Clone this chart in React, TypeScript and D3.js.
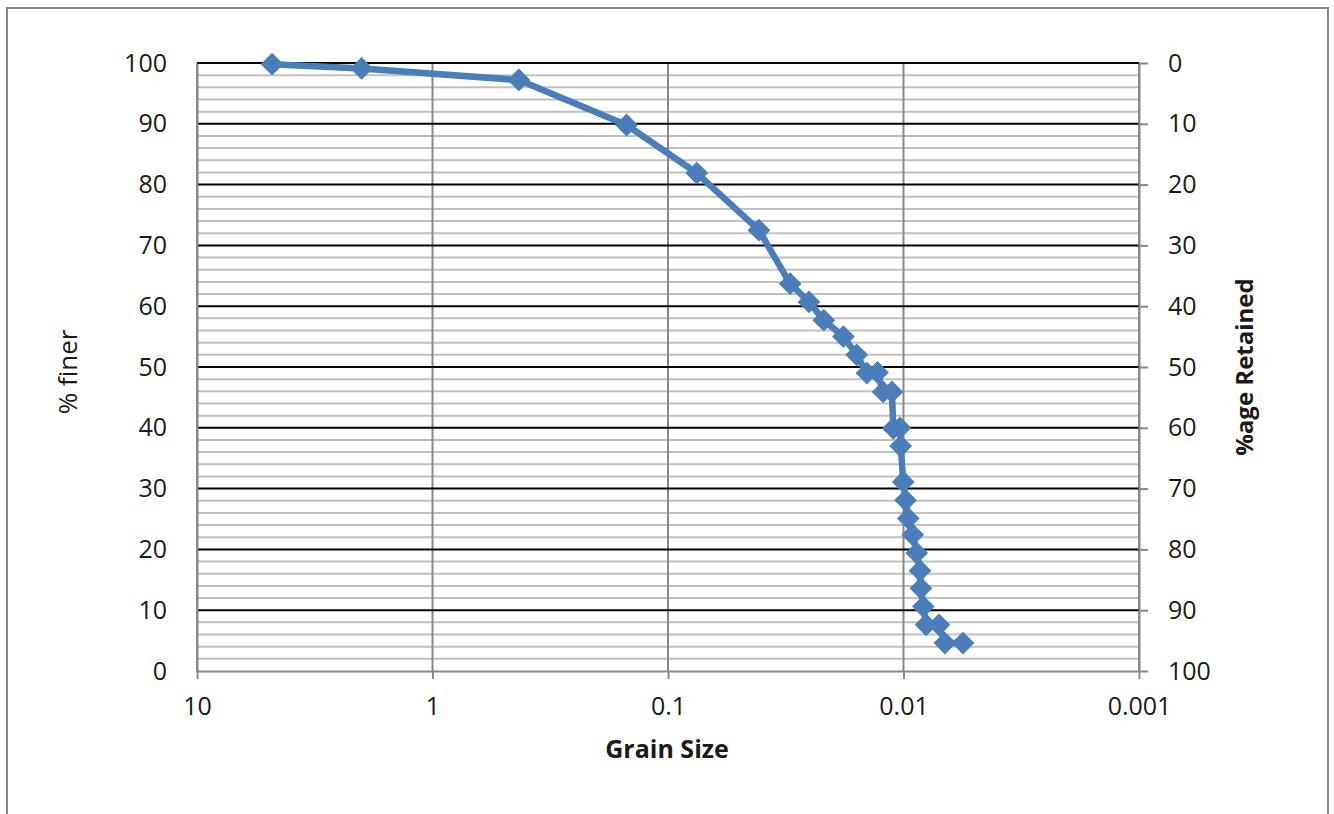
import React, { useRef, useEffect } from 'react'
import * as d3 from 'd3'

// grain size (mm) vs % finer
const grainSize = [4.8, 2.0, 0.43, 0.15, 0.0755, 0.0411, 0.0303, 0.0252, 0.0218, 0.018, 0.0158, 0.0143, 0.0129, 0.0122, 0.0112, 0.01105, 0.01035, 0.01028, 0.01002, 0.0098, 0.00955, 0.00914, 0.00879, 0.00851, 0.00843, 0.00824, 0.00802, 0.00707, 0.00667, 0.00559]
const percentFiner = [99.8, 99.1, 97.2, 89.8, 81.9, 72.5, 63.7, 60.7, 57.7, 55.0, 52.0, 49.0, 49.1, 45.9, 45.9, 39.9, 40.0, 37.0, 31.1, 28.1, 25.1, 22.4, 19.4, 16.5, 13.6, 10.6, 7.6, 7.6, 4.6, 4.6]
const xTicks = [10, 1, 0.1, 0.01, 0.001]
const yTicks = [0, 10, 20, 30, 40, 50, 60, 70, 80, 90, 100]
const yMinor = d3.range(0, 101, 2)

const App = () => {
    const ref = useRef<SVGSVGElement>(null)
    useEffect(() => {
        const W = 1334
        const H = 814
        const left = 197, right = 1139, top = 63, bottom = 671
        const font = '"Open Sans", Lato, sans-serif'
        const svg = d3.select(ref.current)
        svg.selectAll('*').remove()
        svg.attr('width', W).attr('height', H)

        svg.append('rect')
            .attr('width', W).attr('height', H)
            .attr('fill', 'white')
        // outer chart frame
        svg.append('rect')
            .attr('x', 7).attr('y', 8)
            .attr('width', 1321).attr('height', 840)
            .attr('fill', 'none')
            .attr('stroke', '#888')
            .attr('stroke-width', 2)

        const x = d3.scaleLog().domain([10, 0.001]).range([left, right])
        const y = d3.scaleLinear().domain([0, 100]).range([bottom, top])
        const yR = d3.scaleLinear().domain([100, 0]).range([bottom, top])

        const grid = svg.append('g')
        // minor horizontal grid
        grid.selectAll('.minor')
            .data(yMinor.filter(v => v % 10 !== 0))
            .join('line')
            .attr('x1', left).attr('x2', right)
            .attr('y1', d => y(d)).attr('y2', d => y(d))
            .attr('stroke', '#c0c0c0')
            .attr('stroke-width', 2)
        // vertical decade lines
        grid.selectAll('.vgrid')
            .data(xTicks)
            .join('line')
            .attr('x1', d => x(d)).attr('x2', d => x(d))
            .attr('y1', top).attr('y2', bottom)
            .attr('stroke', '#888')
            .attr('stroke-width', 2)
        // major horizontal grid
        grid.selectAll('.major')
            .data(yTicks.filter(v => v !== 0))
            .join('line')
            .attr('x1', left).attr('x2', right)
            .attr('y1', d => y(d)).attr('y2', d => y(d))
            .attr('stroke', 'black')
            .attr('stroke-width', 2)

        // axes
        const styleAxis = (g: any) => {
            g.select('.domain').attr('stroke', '#888').attr('stroke-width', 2)
            g.selectAll('.tick line').attr('stroke', '#888').attr('stroke-width', 2)
            g.selectAll('text')
                .style('font-family', font)
                .style('font-size', '25px')
                .attr('fill', '#1a1a1a')
        }
        svg.append('g')
            .attr('transform', `translate(0,${bottom})`)
            .call(d3.axisBottom(x).tickValues(xTicks).tickFormat(d => String(d)).tickSizeInner(8).tickSizeOuter(0).tickPadding(18))
            .call(styleAxis)
        svg.append('g')
            .attr('transform', `translate(${left},0)`)
            .call(d3.axisLeft(y).tickValues(yTicks).tickSizeInner(0).tickSizeOuter(0).tickPadding(30))
            .call(styleAxis)
        svg.append('g')
            .attr('transform', `translate(${right},0)`)
            .call(d3.axisRight(yR).tickValues(yTicks).tickSizeInner(9).tickSizeOuter(0).tickPadding(20))
            .call(styleAxis)

        // series
        const pts = grainSize.map((g, i) => [g, percentFiner[i]] as [number, number])
        const line = d3.line<[number, number]>()
            .x(d => x(d[0]))
            .y(d => y(d[1]))
        svg.append('path')
            .attr('d', line(pts))
            .attr('fill', 'none')
            .attr('stroke', '#4a7ebb')
            .attr('stroke-width', 6.5)
            .attr('stroke-linejoin', 'round')
        const diamond = d3.symbol().type(d3.symbolSquare).size(260)
        svg.selectAll('.marker')
            .data(pts)
            .join('path')
            .attr('d', diamond())
            .attr('transform', d => `translate(${x(d[0])},${y(d[1])}) rotate(45)`)
            .attr('fill', '#4a7ebb')

        // titles
        svg.append('text')
            .attr('x', 667).attr('y', 758)
            .attr('text-anchor', 'middle')
            .style('font-family', font).style('font-size', '25px').style('font-weight', 'bold')
            .attr('fill', '#1a1a1a')
            .text('Grain Size')
        svg.append('text')
            .attr('transform', `translate(77,372) rotate(-90)`)
            .attr('text-anchor', 'middle')
            .style('font-family', font).style('font-size', '26px')
            .attr('fill', '#1a1a1a')
            .text('% finer')
        svg.append('text')
            .attr('transform', `translate(1253,367) rotate(-90)`)
            .attr('text-anchor', 'middle')
            .style('font-family', font).style('font-size', '24px').style('font-weight', 'bold')
            .attr('fill', '#1a1a1a')
            .text('%age Retained')
    }, [])
    return (
        <div style={{ position: 'absolute', left: 0, top: 0 }}>
            <svg ref={ref} style={{ display: 'block' }}></svg>
        </div>
    )
}

export default App
